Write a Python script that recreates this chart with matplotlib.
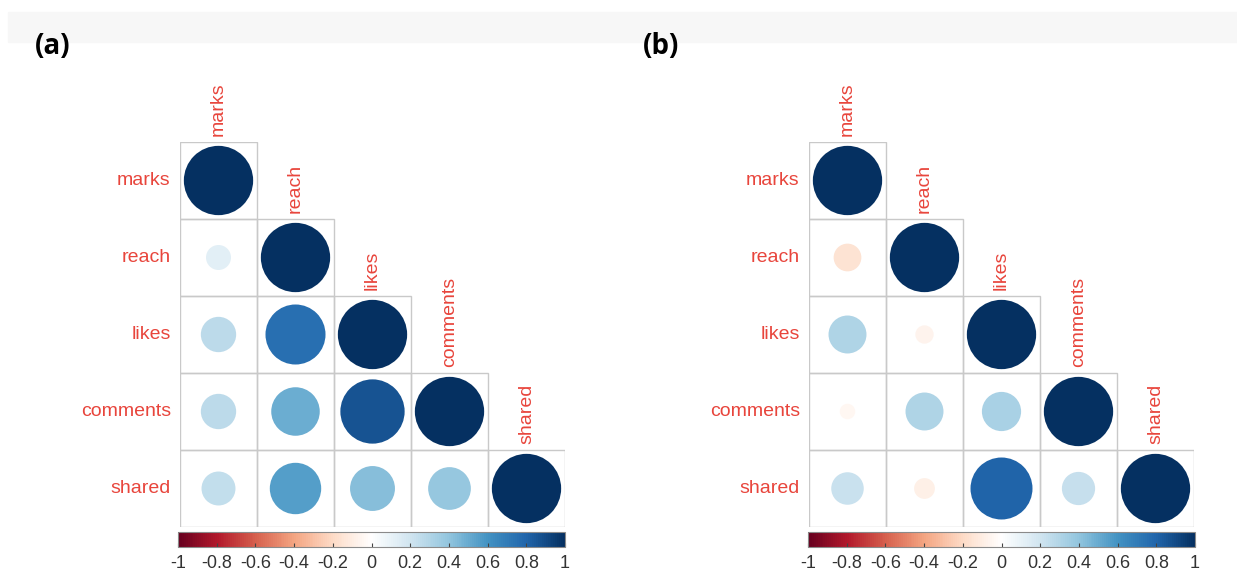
import numpy as np
import matplotlib.pyplot as plt
from matplotlib.colors import LinearSegmentedColormap, Normalize
from matplotlib.patches import Circle, Rectangle
from matplotlib.cm import ScalarMappable

variables = ["marks", "reach", "likes", "comments", "shared"]

# lower triangle, row by row (diagonal = 1)
corr_a_lower = [
    [1.0],
    [0.13, 1.0],
    [0.26, 0.75, 1.0],
    [0.26, 0.49, 0.86, 1.0],
    [0.24, 0.55, 0.42, 0.38, 1.0],
]
corr_b_lower = [
    [1.0],
    [-0.16, 1.0],
    [0.30, -0.07, 1.0],
    [-0.05, 0.30, 0.32, 1.0],
    [0.22, -0.09, 0.80, 0.23, 1.0],
]

cbar_ticks = [-1, -0.8, -0.6, -0.4, -0.2, 0, 0.2, 0.4, 0.6, 0.8, 1]
cbar_labels = ["-1", "-0.8", "-0.6", "-0.4", "-0.2", "0", "0.2", "0.4", "0.6", "0.8", "1"]

# corrplot-style RdBu ramp
cmap = LinearSegmentedColormap.from_list("corr", [
    "#67001F", "#B2182B", "#D6604D", "#F4A582", "#FDDBC7", "#FFFFFF",
    "#D1E5F0", "#92C5DE", "#4393C3", "#2166AC", "#053061"], N=200)
norm = Normalize(-1, 1)

LABEL_RED = "#e8453c"
GRID = "#c9c9c9"

W, H = 1237, 573
fig = plt.figure(figsize=(W / 100, H / 100), dpi=100)
fig.patch.set_facecolor("white")


def px(x0, y0, x1, y1):
    return [x0 / W, 1 - y1 / H, (x1 - x0) / W, (y1 - y0) / H]


# light header strip
fig.add_artist(Rectangle((8 / W, 1 - 42 / H), (W - 8) / W, 30 / H,
                         transform=fig.transFigure, color="#f7f7f7", zorder=0))


def corr_panel(rect, cbar_rect, lower, tag, tag_x):
    n = len(variables)
    ax = fig.add_axes(rect)
    ax.set_xlim(0, n)
    ax.set_ylim(n, 0)
    ax.axis("off")
    for i in range(n):
        for j in range(i + 1):
            r = lower[i][j]
            ax.add_patch(Rectangle((j, i), 1, 1, fill=False, edgecolor=GRID, lw=1.0))
            ax.add_patch(Circle((j + 0.5, i + 0.5), 0.45 * np.sqrt(abs(r)),
                                facecolor=cmap(norm(r)), edgecolor="none"))
    for i, name in enumerate(variables):
        ax.text(-0.12, i + 0.5, name, ha="right", va="center", color=LABEL_RED,
                fontsize=14, family="Liberation Sans", clip_on=False)
        ax.text(i + 0.5, i - 0.08, name, ha="center", va="bottom", rotation=90,
                color=LABEL_RED, fontsize=14, family="Liberation Sans", clip_on=False)

    cax = fig.add_axes(cbar_rect)
    cb = fig.colorbar(ScalarMappable(norm=norm, cmap=cmap), cax=cax,
                      orientation="horizontal", ticks=cbar_ticks)
    cb.ax.set_xticklabels(cbar_labels)
    cb.outline.set_edgecolor("#8a8a8a")
    cb.outline.set_linewidth(0.8)
    cax.tick_params(direction="in", length=3, width=0.8, color="#444444",
                    labelsize=13, labelcolor="#333333", pad=6)
    for t in cax.get_xticklabels():
        t.set_family("Liberation Sans")

    fig.text(tag_x / W, 1 - 46 / H, tag, fontsize=20, fontweight="bold",
             family="Open Sans", va="center", ha="left")


corr_panel(px(180, 142, 565, 527), px(178, 532, 565, 547), corr_a_lower, "(a)", 35)
corr_panel(px(809, 142, 1194, 527), px(808, 532, 1195, 547), corr_b_lower, "(b)", 643)

fig.savefig("out.png", dpi=100)
